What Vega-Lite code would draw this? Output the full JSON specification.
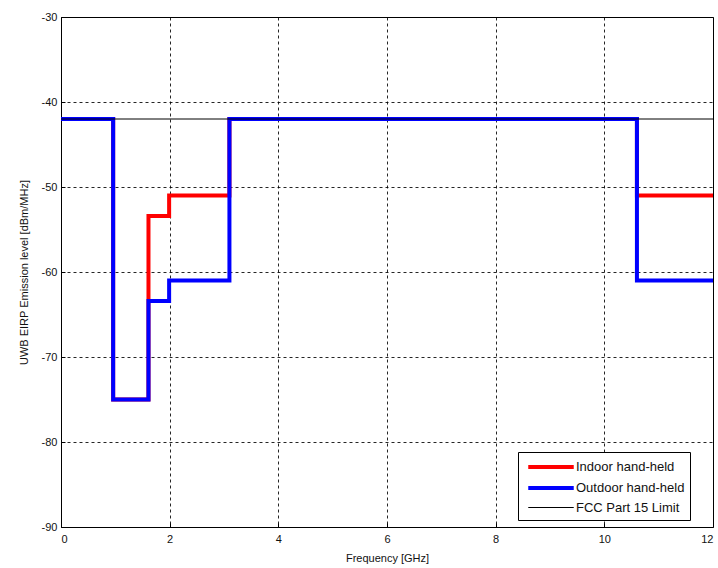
{
  "$schema": "https://vega.github.io/schema/vega-lite/v6.json",
  "width": 652,
  "height": 510,
  "autosize": {"type": "none"},
  "padding": {"left": 61, "top": 17, "right": 5, "bottom": 41},
  "background": "white",
  "config": {
    "view": {"stroke": "black", "strokeWidth": 1},
    "font": "Liberation Sans",
    "axis": {
      "domain": false,
      "grid": true,
      "gridColor": "black",
      "gridDash": [3, 3],
      "gridOpacity": 0.85,
      "gridWidth": 1,
      "tickColor": "black",
      "tickSize": -4,
      "labelPadding": 8,
      "labelFont": "Liberation Sans",
      "labelFontSize": 11,
      "labelColor": "#111",
      "labelExpr": "'' + datum.value",
      "titleFont": "Liberation Sans",
      "titleFontSize": 11,
      "titleFontWeight": "normal",
      "titleColor": "#111"
    },
    "legend": {
      "labelFont": "Liberation Sans",
      "labelFontSize": 13,
      "labelColor": "#111"
    }
  },
  "data": {
    "values": [
      {"series": "Indoor hand-held", "f": 0, "p": -42},
      {"series": "Indoor hand-held", "f": 0.96, "p": -75},
      {"series": "Indoor hand-held", "f": 1.61, "p": -53.4},
      {"series": "Indoor hand-held", "f": 1.99, "p": -51},
      {"series": "Indoor hand-held", "f": 3.1, "p": -42},
      {"series": "Indoor hand-held", "f": 10.6, "p": -51},
      {"series": "Indoor hand-held", "f": 12, "p": -51},
      {"series": "Outdoor hand-held", "f": 0, "p": -42},
      {"series": "Outdoor hand-held", "f": 0.96, "p": -75},
      {"series": "Outdoor hand-held", "f": 1.61, "p": -63.4},
      {"series": "Outdoor hand-held", "f": 1.99, "p": -61},
      {"series": "Outdoor hand-held", "f": 3.1, "p": -42},
      {"series": "Outdoor hand-held", "f": 10.6, "p": -61},
      {"series": "Outdoor hand-held", "f": 12, "p": -61},
      {"series": "FCC Part 15 Limit", "f": 0, "p": -42},
      {"series": "FCC Part 15 Limit", "f": 12, "p": -42}
    ]
  },
  "encoding": {
    "x": {
      "field": "f",
      "type": "quantitative",
      "scale": {"domain": [0, 12], "nice": false, "zero": false},
      "axis": {"values": [0, 2, 4, 6, 8, 10, 12], "title": "Frequency [GHz]", "titlePadding": 8, "labelPadding": 10}
    },
    "y": {
      "field": "p",
      "type": "quantitative",
      "scale": {"domain": [-90, -30], "nice": false, "zero": false},
      "axis": {"values": [-90, -80, -70, -60, -50, -40, -30], "title": "UWB EIRP Emission level [dBm/MHz]", "titlePadding": 12}
    },
    "color": {
      "field": "series",
      "type": "nominal",
      "scale": {
        "domain": ["Indoor hand-held", "Outdoor hand-held", "FCC Part 15 Limit"],
        "range": ["#ff0000", "#0000ff", "#000000"]
      },
      "legend": {
        "title": null,
        "orient": "none",
        "legendX": 457,
        "legendY": 435,
        "strokeColor": "black",
        "fillColor": "white",
        "padding": 5,
        "symbolType": "M -3 0 H 3",
        "symbolSize": 230,
        "symbolOffset": 18,
        "rowPadding": 3,
        "labelOffset": 15
      }
    },
    "strokeWidth": {
      "field": "series",
      "type": "nominal",
      "scale": {
        "type": "ordinal",
        "domain": ["Indoor hand-held", "Outdoor hand-held", "FCC Part 15 Limit"],
        "range": [4, 4, 1]
      },
      "legend": null
    }
  },
  "layer": [
    {
      "transform": [{"filter": "datum.series === 'Indoor hand-held'"}],
      "mark": {"type": "line", "interpolate": "step-after", "clip": true}
    },
    {
      "transform": [{"filter": "datum.series === 'Outdoor hand-held'"}],
      "mark": {"type": "line", "interpolate": "step-after", "clip": true}
    },
    {
      "transform": [{"filter": "datum.series === 'FCC Part 15 Limit'"}],
      "mark": {"type": "line", "interpolate": "step-after", "clip": true, "zindex": 2}
    }
  ]
}
